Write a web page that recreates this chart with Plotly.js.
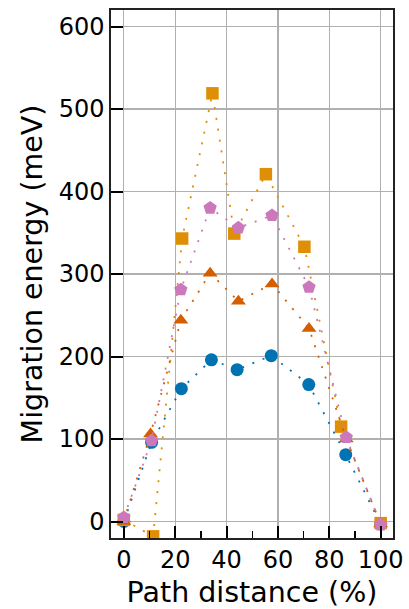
<!DOCTYPE html>
<html>
<head>
<meta charset="utf-8">
<script src="https://cdn.plot.ly/plotly-3.0.1.min.js"></script>
<style>html,body{margin:0;padding:0;background:#fff;}#chart{width:409px;height:609px;}</style>
</head>
<body>
<div id="chart"></div>
<script>
// Series data
const circleX = [0, 10.8, 22.4, 34.1, 44.1, 57.4, 72.0, 86.4, 100];
const circleY = [0, 96, 161, 196, 184, 201, 166, 81, -3];

const squareX = [0, 11.4, 22.7, 34.5, 43.0, 55.3, 70.3, 84.6, 100];
const squareY = [2, -18, 343, 519, 349, 421, 333, 115, -2];

const triangleX = [0, 10.4, 22.2, 33.6, 44.6, 57.7, 72.1, 86.6, 100];
const triangleY = [0, 106, 244, 301, 267, 288, 234, 100, -3];

const pentagonX = [0, 10.8, 22.2, 33.6, 44.6, 57.7, 72.1, 86.6, 100];
const pentagonY = [5, 98, 281, 380, 356, 371, 284, 102, -4];

const xTicks = [0, 20, 40, 60, 80, 100];
const yTicks = [0, 100, 200, 300, 400, 500, 600];

function series(x, y, color, symbol, size) {
  return {
    x: x, y: y, type: 'scatter', mode: 'lines+markers',
    line: {color: color, width: 1.8, dash: '2px,9px'},
    marker: {color: color, symbol: symbol, size: size, line: {width: 0}},
    showlegend: false, cliponaxis: true
  };
}

const data = [
  series(circleX, circleY, '#0173B2', 'circle', 13),
  series(squareX, squareY, '#DE8F05', 'square', 12.5),
  series(triangleX, triangleY, '#D55E00', 'triangle-up', 13),
  series(pentagonX, pentagonY, '#CC78BC', 'pentagon', 14)
];

const font = {family: 'DejaVu Sans, sans-serif', color: '#000'};

const layout = {
  width: 409, height: 609,
  margin: {l: 111, r: 16, t: 10, b: 71},
  paper_bgcolor: '#fff', plot_bgcolor: '#fff',
  font: font,
  xaxis: {
    range: [-5, 104.8],
    tickvals: xTicks, ticktext: xTicks.map(String),
    ticks: 'inside', ticklen: 12, tickwidth: 2, tickcolor: '#000',
    minor: {dtick: 10, tick0: 10, ticks: 'inside', ticklen: 7, tickwidth: 1.5, tickcolor: '#000', showgrid: false},
    showgrid: true, gridcolor: '#b0b0b0', gridwidth: 1.2,
    showline: true, linecolor: '#222', linewidth: 1.6, mirror: true,
    zeroline: false,
    tickfont: {family: 'DejaVu Sans, sans-serif', size: 24, color: '#000'},
    title: {text: 'Path distance (%)', font: {family: 'DejaVu Sans, sans-serif', size: 28.5, color: '#000'}, standoff: 8},
    automargin: false
  },
  yaxis: {
    range: [-20, 620],
    tickvals: yTicks, ticktext: yTicks.map(String),
    ticks: 'inside', ticklen: 12, tickwidth: 2, tickcolor: '#000',
    showgrid: true, gridcolor: '#b0b0b0', gridwidth: 1.2,
    showline: true, linecolor: '#222', linewidth: 1.6, mirror: true,
    zeroline: false,
    tickfont: {family: 'DejaVu Sans, sans-serif', size: 24, color: '#000'},
    title: {text: 'Migration energy (meV)', font: {family: 'DejaVu Sans, sans-serif', size: 28.5, color: '#000'}, standoff: 8},
    automargin: false
  }
};

Plotly.newPlot('chart', data, layout, {staticPlot: true, displayModeBar: false});
</script>
</body>
</html>
